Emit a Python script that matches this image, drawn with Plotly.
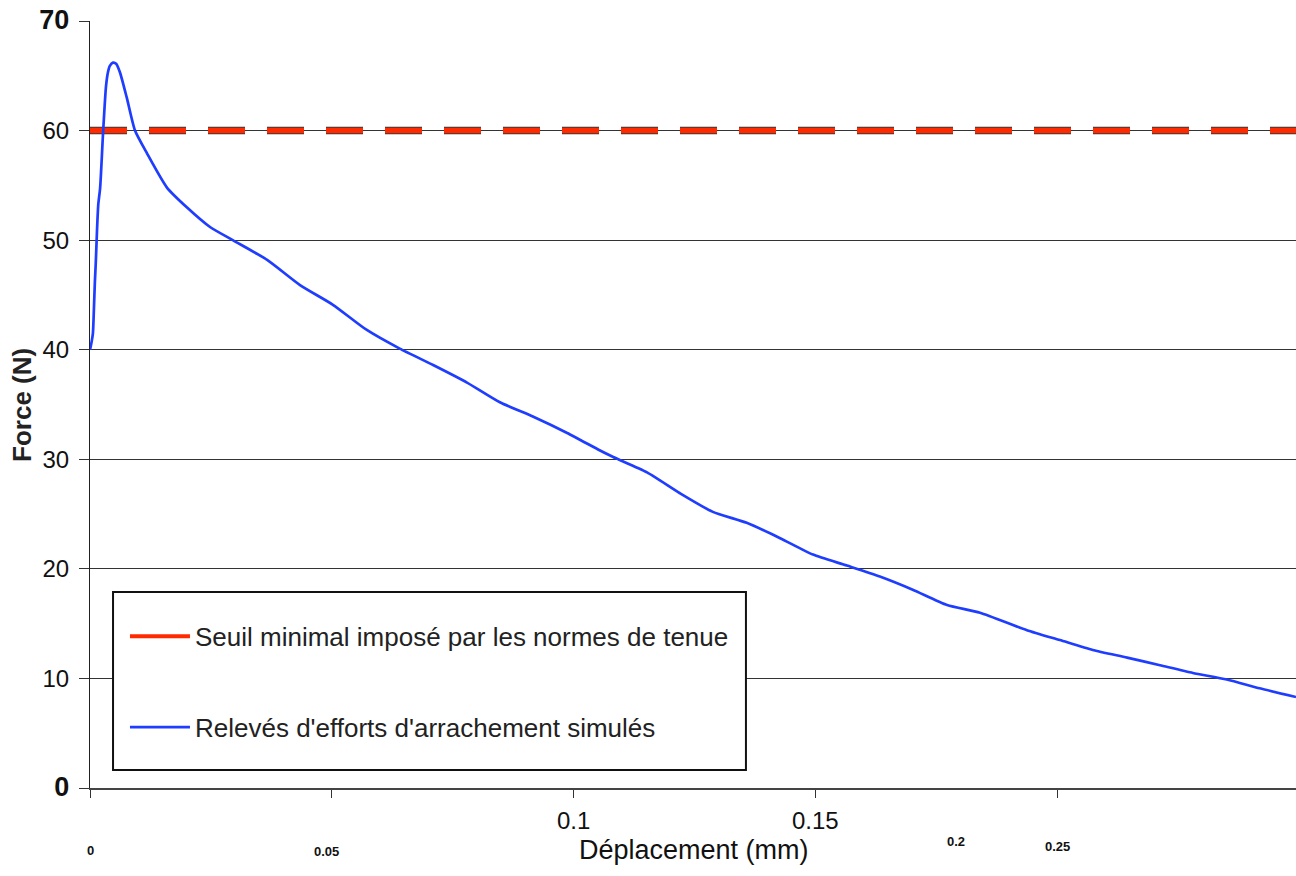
import plotly.graph_objects as go

# ---- data ----
displacement_mm = [0.0, 0.0002, 0.0006, 0.0008, 0.0010, 0.0012, 0.00145, 0.0017, 0.0021,
                   0.0027, 0.0033, 0.0037, 0.0041, 0.00475, 0.0054, 0.0062, 0.0076,
                   0.0093, 0.0118, 0.0159, 0.0200, 0.0248, 0.0295, 0.0366, 0.0434,
                   0.0502, 0.0572, 0.0640, 0.0709, 0.0779, 0.0847, 0.0915, 0.0986,
                   0.1054, 0.1081, 0.1151, 0.1219, 0.1287, 0.1357, 0.1426, 0.1494,
                   0.1564, 0.1632, 0.1700, 0.1771, 0.1839, 0.1936, 0.2004, 0.2072,
                   0.2143, 0.2211, 0.2279, 0.2349, 0.2417, 0.2492]
force_N = [40.0, 40.4, 41.5, 43.6, 46.1, 48.0, 50.9, 53.2, 54.8,
           59.8, 64.0, 65.3, 65.9, 66.2, 66.1, 65.3, 63.0,
           60.0, 57.9, 54.8, 53.0, 51.2, 50.0, 48.2, 45.9,
           44.1, 41.8, 40.1, 38.6, 37.0, 35.2, 33.9, 32.4,
           30.8, 30.2, 28.8, 26.9, 25.2, 24.2, 22.8, 21.3,
           20.3, 19.3, 18.1, 16.7, 16.0, 14.4, 13.5, 12.6,
           11.9, 11.2, 10.5, 9.9, 9.1, 8.3]

threshold_x = [0.0, 0.2492]
threshold_y = [60, 60]

x_range = [0, 0.2492]
y_range = [0, 70]
y_tick_vals = [0, 10, 20, 30, 40, 50, 60, 70]
y_tick_text = ["<b><span style='font-size:27px'>0</span></b>", "10", "20", "30", "40", "50", "60",
               "<b><span style='font-size:27px'>70</span></b>"]
x_tick_vals = [0, 0.05, 0.1, 0.15, 0.2]

# x tick labels (as drawn, odd placement in original)
x_label_text = ["0", "0.05", "0.1", "0.15", "0.2", "0.25"]
x_label_pos = [0.0, 0.0488, 0.1, 0.15, 0.1789, 0.2]
x_label_ypaper = [-0.0821, -0.0834, -0.043, -0.043, -0.0704, -0.0769]
x_label_size = [13, 13, 24, 24, 13, 13]
x_label_bold = [True, True, False, False, True, True]

label_threshold = "Seuil minimal imposé par les normes de tenue"
label_force = "Relevés d'efforts d'arrachement simulés"

FONT = "Liberation Sans, Arial, sans-serif"

fig = go.Figure()

# threshold outline (dark) under red dashes
fig.add_trace(go.Scatter(x=threshold_x, y=threshold_y, mode="lines",
                         line=dict(color="#3a3a3a", width=7.5, dash="37px,22px"),
                         showlegend=False, hoverinfo="skip"))
fig.add_trace(go.Scatter(x=threshold_x, y=threshold_y, mode="lines",
                         line=dict(color="#ff2a00", width=5.5, dash="37px,22px"),
                         showlegend=False, hoverinfo="skip"))
# legend entry for threshold (solid red sample as in the original legend)
fig.add_trace(go.Scatter(x=[None], y=[None], mode="lines",
                         line=dict(color="#ff2a00", width=4),
                         name=label_threshold, legendgroup="a"))
fig.add_trace(go.Scatter(x=displacement_mm, y=force_N, mode="lines",
                         line=dict(color="#1f3dff", width=2.7, shape="spline", smoothing=0.6),
                         name=label_force, legendgroup="b"))

annotations = []
for t, xp, yp, sz, b in zip(x_label_text, x_label_pos, x_label_ypaper, x_label_size, x_label_bold):
    annotations.append(dict(text=f"<b>{t}</b>" if b else t, x=xp, xref="x", y=yp, yref="paper",
                            xanchor="center", yanchor="middle", showarrow=False,
                            font=dict(family=FONT, size=sz, color="#111")))
annotations.append(dict(text="Déplacement (mm)", x=0.5008, xref="paper", y=-0.0808, yref="paper",
                        xanchor="center", yanchor="middle", showarrow=False,
                        font=dict(family=FONT, size=27, color="#111")))
annotations.append(dict(text="<b>Force (N)</b>", x=-0.0564, xref="paper", y=0.4994, yref="paper",
                        xanchor="center", yanchor="middle", showarrow=False, textangle=-90,
                        font=dict(family=FONT, size=26, color="#222")))

fig.update_layout(
    width=1296, height=876,
    margin=dict(l=90, r=0, t=21, b=88),
    paper_bgcolor="white", plot_bgcolor="white",
    font=dict(family=FONT, color="#111"),
    annotations=annotations,
    shapes=[dict(type="rect", xref="paper", yref="paper",
                 x0=0.0191, x1=0.5439, y0=0.0235, y1=0.2555,
                 line=dict(color="#111", width=2), fillcolor="white", layer="above")],
    legend=dict(x=0.029, y=0.2283, xanchor="left", yanchor="top",
                bgcolor="rgba(0,0,0,0)", borderwidth=0,
                font=dict(family=FONT, size=26, color="#222"),
                tracegroupgap=54, traceorder="grouped", itemwidth=60),
    xaxis=dict(range=x_range, tickvals=x_tick_vals, showticklabels=False,
               ticks="outside", ticklen=8, tickcolor="#333", tickwidth=1,
               showline=True, linecolor="#444", linewidth=2, showgrid=False, zeroline=False),
    yaxis=dict(range=y_range, tickvals=y_tick_vals, ticktext=y_tick_text,
               ticks="outside", ticklen=10, tickcolor="#333", tickwidth=1,
               tickfont=dict(family=FONT, size=24, color="#111"), ticklabelstandoff=5,
               showline=True, linecolor="#222", linewidth=1,
               showgrid=True, gridcolor="#333", gridwidth=1, zeroline=False),
)

fig.write_html("out.html", config={"displayModeBar": False},
               post_script="document.body.style.margin='0';document.body.style.overflow='hidden';")
